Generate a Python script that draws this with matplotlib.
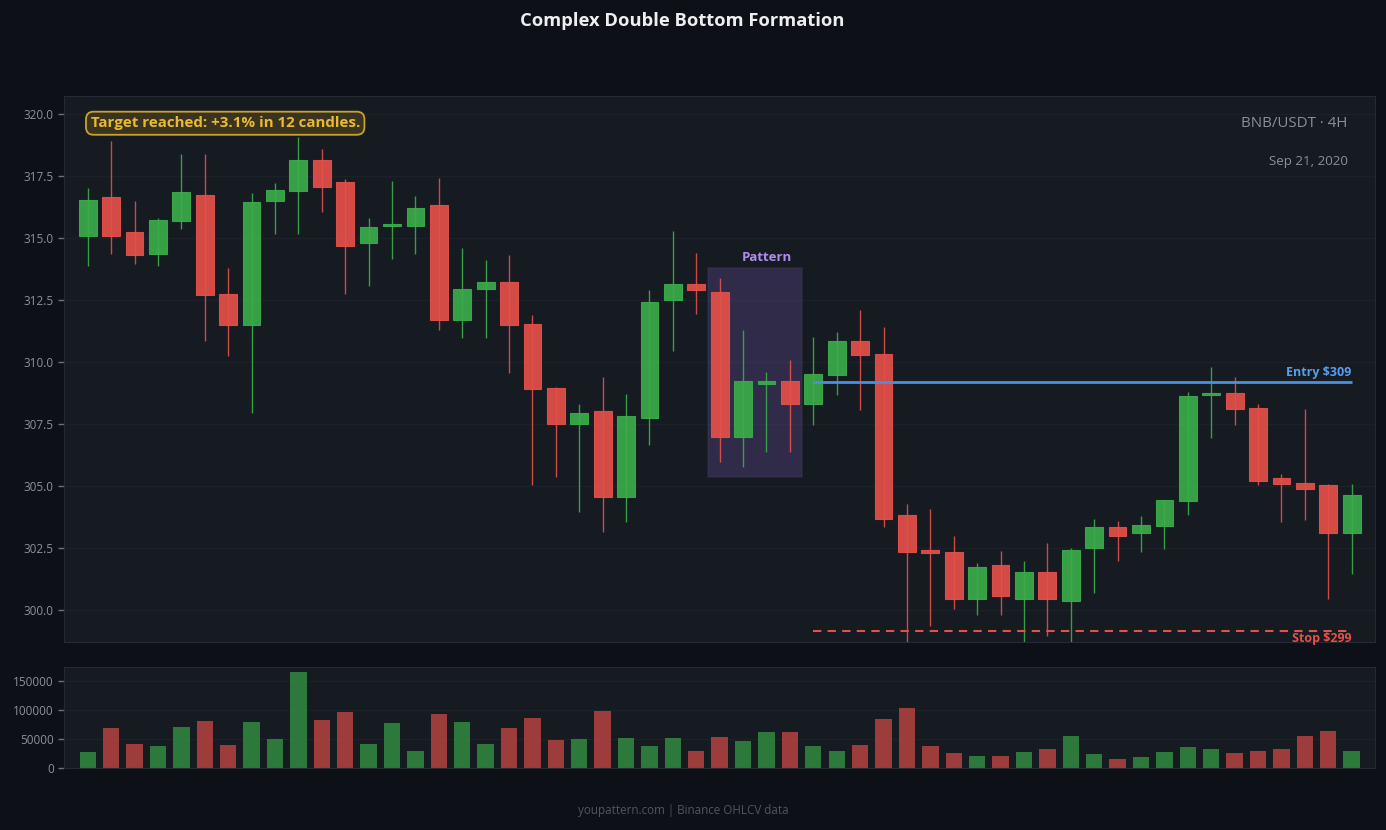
import matplotlib
matplotlib.use("Agg")
import matplotlib.pyplot as plt
from matplotlib.patches import Rectangle
import numpy as np

plt.rcParams['font.family'] = ['Open Sans', 'DejaVu Sans']

# ---- data ----
opens = [315.08, 316.65, 315.24, 314.37, 315.68, 316.73, 312.74, 311.49, 316.49, 316.89,
         318.14, 317.25, 314.80, 315.48, 315.48, 316.33, 311.69, 312.97, 313.22, 311.53,
         308.94, 307.49, 308.01, 304.57, 307.76, 312.49, 313.14, 312.82, 306.96, 309.10,
         309.22, 308.30, 309.47, 310.84, 310.31, 303.82, 302.40, 302.32, 300.45, 301.80,
         300.45, 301.52, 300.37, 302.48, 303.33, 303.09, 303.37, 304.38, 308.68, 308.74,
         308.13, 305.31, 305.11, 305.03, 303.09]
highs = [317.03, 318.92, 316.50, 315.82, 318.40, 318.40, 313.80, 316.81, 317.23, 319.10,
         318.60, 317.41, 315.82, 317.31, 316.70, 317.43, 314.61, 314.12, 314.32, 311.90,
         309.00, 308.31, 309.40, 308.71, 312.91, 315.29, 314.40, 313.40, 311.30, 309.60,
         310.09, 311.01, 311.22, 312.10, 311.42, 304.26, 304.07, 302.98, 301.89, 302.38,
         301.97, 302.70, 302.50, 303.67, 303.59, 303.79, 304.42, 308.78, 309.80, 309.41,
         308.31, 305.48, 308.11, 305.08, 305.08]
lows = [313.89, 314.37, 313.97, 313.89, 315.38, 310.87, 310.26, 307.96, 315.18, 315.18,
        316.06, 312.74, 313.07, 314.17, 314.37, 311.28, 310.99, 310.99, 309.56, 305.04,
        305.36, 303.96, 303.14, 303.55, 306.65, 310.44, 311.94, 305.98, 305.78, 306.39,
        306.39, 307.46, 308.67, 308.07, 303.36, 298.70, 299.36, 300.05, 299.77, 299.77,
        298.70, 298.96, 298.70, 300.66, 301.95, 302.34, 302.46, 303.84, 306.95, 307.47,
        305.05, 303.56, 303.64, 300.45, 301.46]
closes = [316.53, 315.08, 314.31, 315.72, 316.85, 312.70, 311.49, 316.45, 316.93, 318.14,
          317.08, 314.67, 315.44, 315.56, 316.24, 311.69, 312.94, 313.22, 311.49, 308.90,
          307.49, 307.93, 304.57, 307.81, 312.41, 313.14, 312.90, 306.96, 309.22, 309.22,
          308.30, 309.51, 310.84, 310.28, 303.65, 302.35, 302.28, 300.45, 301.72, 300.57,
          301.52, 300.45, 302.40, 303.33, 302.97, 303.41, 304.42, 308.62, 308.75, 308.09,
          305.19, 305.07, 304.87, 303.09, 304.62]
volumes = [28000, 69000, 41500, 38000, 71000, 81000, 40000, 79500, 50000, 166000,
           83000, 97000, 41500, 78000, 29500, 93500, 79500, 41500, 69000, 86500,
           48500, 50000, 98500, 52000, 38000, 52000, 29500, 53500, 46500, 62000,
           62000, 38000, 29500, 40000, 84500, 104000, 38000, 26000, 21000, 21000,
           27500, 33000, 55000, 24000, 15500, 19000, 27500, 36500, 33000, 26000,
           29500, 33000, 55000, 64000, 29500]

entry_price = 309.18
stop_price = 299.16
entry_start, entry_end = 31, 54
pattern_start, pattern_end = 27, 30

title = "Complex Double Bottom Formation"
pair_label = "BNB/USDT · 4H"
date_label = "Sep 21, 2020"
target_label = "Target reached: +3.1% in 12 candles."
footer = "youpattern.com | Binance OHLCV data"

# ---- style ----
FIG_BG = '#0d1017'
AX_BG = '#161a21'
GREEN = '#3aad4a'
RED = '#e5504a'
GRID = '#1c2028'
SPINE = '#262b33'
TICK = '#8b919a'

fig = plt.figure(figsize=(13.86, 8.30), dpi=100, facecolor=FIG_BG)
ax = fig.add_axes([0.0464, 0.2265, 0.9457, 0.6578], facecolor=AX_BG)
axv = fig.add_axes([0.0464, 0.0747, 0.9457, 0.1217], facecolor=AX_BG)

x = np.arange(len(opens))
o = np.array(opens); c = np.array(closes); h = np.array(highs); l = np.array(lows)
up = c >= o
cols = np.where(up, GREEN, RED)

# pattern box (behind candles)
ax.add_patch(Rectangle((pattern_start - 0.5, 305.38), pattern_end - pattern_start + 1, 313.80 - 305.38,
                       facecolor='#6a55a8', alpha=0.30, edgecolor='#4a4266', linewidth=1.2, zorder=1))
ax.text((pattern_start + pattern_end) / 2 + 0.5, 313.95, "Pattern", color='#b08cf0', fontsize=9.5,
        fontweight='bold', ha='center', va='bottom', zorder=5)

bottoms = np.minimum(o, c)
heights = np.maximum(np.abs(c - o), 0.06)
ax.bar(x, heights, bottom=bottoms, width=0.76, color=cols, edgecolor=cols, linewidth=0.8,
       alpha=0.92, zorder=2)
ax.vlines(x, l, h, colors=cols, linewidth=1.0, alpha=0.9, zorder=3)

# entry / stop lines
ax.hlines(entry_price, entry_start, entry_end, colors='#4a8fe0', linewidth=2.0, zorder=4)
ax.text(entry_end, entry_price + 0.12, "Entry $309", color='#5a9cf0', fontsize=9, fontweight='bold',
        ha='right', va='bottom', zorder=5)
ax.hlines(stop_price, entry_start, entry_end, colors='#e5504a', linewidth=1.5, linestyles=(0, (4, 3)), zorder=4)
ax.text(entry_end, stop_price - 0.05, "Stop $299", color='#e5504a', fontsize=9, fontweight='bold',
        ha='right', va='top', zorder=5)

ax.set_xlim(-1, 55)
ax.set_ylim(298.70, 320.74)
ax.set_yticks(np.arange(300, 320.1, 2.5))
ax.yaxis.set_major_formatter(matplotlib.ticker.FormatStrFormatter('%.1f'))
ax.set_xticks([])
ax.grid(axis='y', color=GRID, linewidth=1.0, zorder=0)
ax.set_axisbelow(True)

ax.text(0.02, 0.963, target_label, transform=ax.transAxes, ha='left', va='top', color='#e8b931',
        fontsize=10.9, fontweight='bold', zorder=6,
        bbox=dict(boxstyle='round,pad=0.3,rounding_size=0.5', facecolor='#3a3320', edgecolor='#c9a22f',
                  linewidth=1.3))
ax.text(0.979, 0.949, pair_label, transform=ax.transAxes, ha='right', va='center', color='#8b8f96',
        fontsize=10.9)
ax.text(0.979, 0.881, date_label, transform=ax.transAxes, ha='right', va='center', color='#8b8f96',
        fontsize=9.6)

# volume
vcols = np.where(up, GREEN, RED)
axv.bar(x, volumes, width=0.7, color=vcols, alpha=0.65, zorder=2)
axv.set_xlim(-1, 55)
axv.set_ylim(0, max(volumes) * 1.053)
axv.set_yticks([0, 50000, 100000, 150000])
axv.set_xticks([])
axv.grid(axis='y', color=GRID, linewidth=1.0, zorder=0)
axv.set_axisbelow(True)

for a in (ax, axv):
    for s in a.spines.values():
        s.set_color(SPINE)
    a.tick_params(axis='y', colors=TICK, labelsize=8.5, length=4, width=1)
    a.tick_params(axis='y', color='#6b717a')

fig.text(0.4925, 0.975, title, ha='center', va='center', color='#eeeeee', fontsize=13.2, fontweight='bold')
fig.text(0.4932, 0.024, footer, ha='center', va='center', color='#50555e', fontsize=8.4)

fig.savefig('out.png', dpi=100, facecolor=FIG_BG)
